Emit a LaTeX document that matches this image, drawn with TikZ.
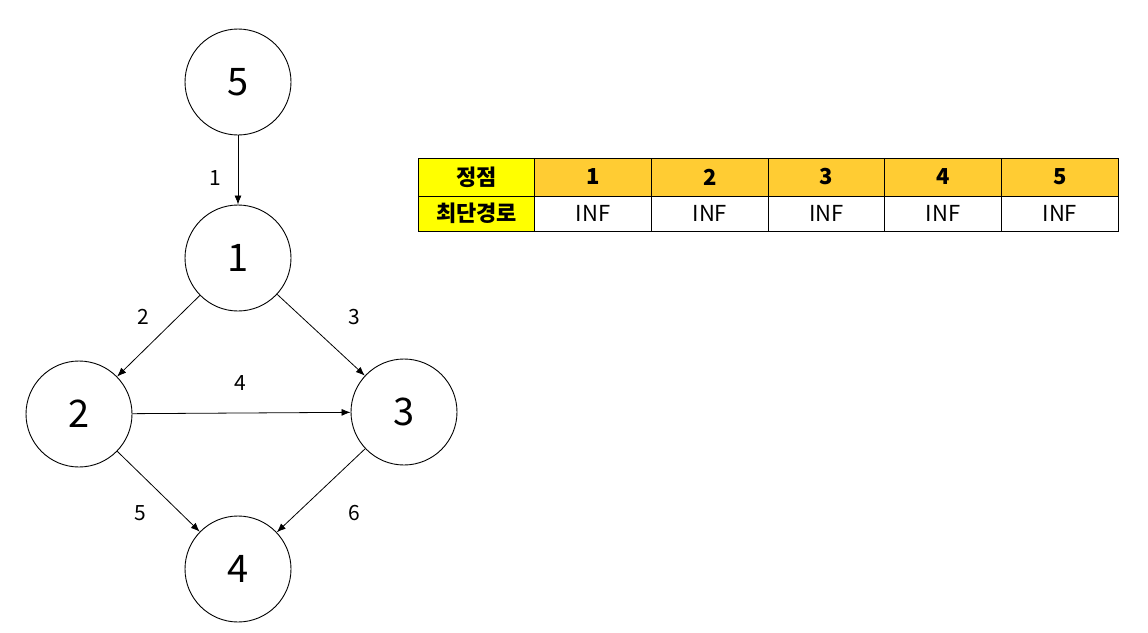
\documentclass[tikz,border=0pt]{standalone}
\usepackage{fontspec}
\setmainfont{Noto Sans CJK KR}
\usetikzlibrary{arrows.meta}
\definecolor{hdr}{HTML}{FFCC33}
\definecolor{hdrfirst}{HTML}{FFFF00}
\tikzset{
  vert/.style={circle,draw=black,line width=0.9pt,minimum size=106pt,inner sep=0pt,font=\fontsize{38}{42}\selectfont},
  edge/.style={line width=0.8pt,-{Latex[length=9pt,width=7pt]}},
  elabel/.style={font=\fontsize{21}{24}\selectfont,inner sep=0pt},
  cellbox/.style={draw=black,line width=0.9pt,minimum width=116.7pt,minimum height=36pt,inner sep=0pt,anchor=center},
  hcell/.style={cellbox,fill=hdr,font=\fontsize{22}{26}\bfseries\selectfont},
  vcell/.style={cellbox,fill=white,font=\fontsize{22}{26}\selectfont},
}
\begin{document}
\begin{tikzpicture}[x=1pt,y=-1pt]
\useasboundingbox[fill=white] (0,0) rectangle (1148,632);
\node[vert] (n5) at (238,82) {5};
\node[vert] (n1) at (238,258) {1};
\node[vert] (n2) at (79,414) {2};
\node[vert] (n3) at (404,412) {3};
\node[vert] (n4) at (238,569) {4};
\draw[edge] (n5) -- (n1);
\draw[edge] (n1) -- (n2);
\draw[edge] (n1) -- (n3);
\draw[edge] (n2) -- (n3);
\draw[edge] (n2) -- (n4);
\draw[edge] (n3) -- (n4);
\node[elabel] (l1) at (215,178) {1};
\node[elabel] (l2) at (143,317) {2};
\node[elabel] (l3) at (354,317) {3};
\node[elabel] (l4) at (240,383) {4};
\node[elabel] (l5) at (140,513) {5};
\node[elabel] (l6) at (354,513) {6};
% table
\node[hcell,fill=hdrfirst,minimum height=38pt] (h0) at (476.5,177) {정점};
\node[hcell,minimum height=38pt] (h1) at (593.2,177) {1};
\node[hcell,minimum height=38pt] (h2) at (709.8,177) {2};
\node[hcell,minimum height=38pt] (h3) at (826.5,177) {3};
\node[hcell,minimum height=38pt] (h4) at (943.2,177) {4};
\node[hcell,minimum height=38pt] (h5) at (1059.8,177) {5};
\node[hcell,fill=hdrfirst,minimum height=35pt] (r0) at (476.5,213.5) {최단경로};
\node[vcell,minimum height=35pt] (v1) at (593.2,213.5) {INF};
\node[vcell,minimum height=35pt] (v2) at (709.8,213.5) {INF};
\node[vcell,minimum height=35pt] (v3) at (826.5,213.5) {INF};
\node[vcell,minimum height=35pt] (v4) at (943.2,213.5) {INF};
\node[vcell,minimum height=35pt] (v5) at (1059.8,213.5) {INF};
\end{tikzpicture}
\end{document}
